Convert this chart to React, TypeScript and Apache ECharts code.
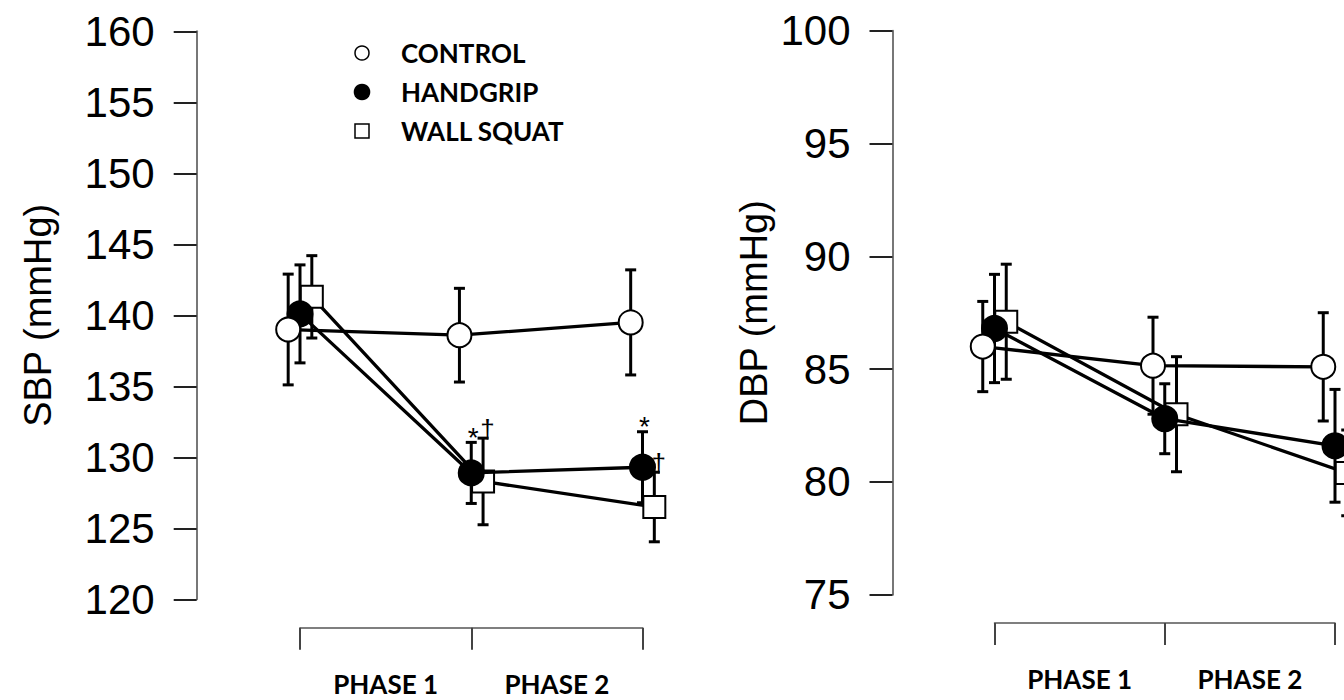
import { useEffect, useRef } from "react";
import * as echarts from "echarts";

// ---------- data ----------
const phases = ["PHASE 1", "PHASE 2"];
const timepoints = [0, 1, 2];
const groupNames = ["CONTROL", "HANDGRIP", "WALL SQUAT"];

const sbpControl = [139.0, 138.6, 139.5];
const sbpControlSE = [3.9, 3.3, 3.7];
const sbpHandgrip = [140.1, 128.9, 129.3];
const sbpHandgripSE = [3.45, 2.15, 2.5];
const sbpWallSquat = [141.3, 128.3, 126.5];
const sbpWallSquatSE = [2.9, 3.05, 2.45];
const sbpHandgripMarks = ["", "*", "*"];
const sbpWallSquatMarks = ["", "†", "†"];

const dbpControl = [86.0, 85.15, 85.1];
const dbpControlSE = [2.0, 2.15, 2.4];
const dbpHandgrip = [86.8, 82.8, 81.6];
const dbpHandgripSE = [2.4, 1.55, 2.5];
const dbpWallSquat = [87.1, 83.0, 80.4];
const dbpWallSquatSE = [2.55, 2.55, 1.9];
const noMarks = ["", "", ""];

const sbpAxis = { name: "SBP (mmHg)", min: 120, max: 160, interval: 5 };
const dbpAxis = { name: "DBP (mmHg)", min: 75, max: 100, interval: 5 };

// ---------- styles ----------
const groupOffset = [-0.069, 0, 0.069];
const groupSymbol = ["circle", "circle", "rect"];
const groupSymbolSize = [24, 25, 22];
const groupFill = ["#ffffff", "#000000", "#ffffff"];
const groupZ = [6, 5, 4];
const markStyle: Record<string, { size: number; dy: number; dx: number }> = {
  "*": { size: 28, dy: -5, dx: 2 },
  "†": { size: 26, dy: -9, dx: 4.5 },
};

function makeGroup(
  panel: number,
  g: number,
  values: number[],
  se: number[],
  marks: string[]
) {
  const pts = timepoints.map((t, i) => [t + groupOffset[g], values[i]]);
  const errData = timepoints.map((t, i) => [t + groupOffset[g], values[i], se[i]]);
  const line = {
    type: "line",
    name: groupNames[g],
    xAxisIndex: panel * 2,
    yAxisIndex: panel,
    data: pts,
    clip: false,
    symbol: groupSymbol[g],
    symbolSize: groupSymbolSize[g],
    showSymbol: true,
    showAllSymbol: true,
    itemStyle: { color: groupFill[g], borderColor: "#000", borderWidth: 2, opacity: 1 },
    lineStyle: { color: "#000", width: 3.3 },
    z: groupZ[g] + 2,
    silent: true,
  };
  const bars = {
    type: "custom",
    xAxisIndex: panel * 2,
    yAxisIndex: panel,
    data: errData,
    encode: { x: 0, y: 1 },
    z: groupZ[g],
    silent: true,
    clip: false,
    renderItem: (params: any, api: any) => {
      const x = api.value(0);
      const y = api.value(1);
      const e = api.value(2);
      const top = api.coord([x, y + e]);
      const bot = api.coord([x, y - e]);
      const w = 5.5;
      const ls = { stroke: "#000", lineWidth: 3 };
      return {
        type: "group",
        children: [
          { type: "line", shape: { x1: top[0], y1: top[1], x2: bot[0], y2: bot[1] }, style: ls },
          { type: "line", shape: { x1: top[0] - w, y1: top[1], x2: top[0] + w, y2: top[1] }, style: ls },
          { type: "line", shape: { x1: bot[0] - w, y1: bot[1], x2: bot[0] + w, y2: bot[1] }, style: ls },
        ],
      };
    },
  };
  const out: any[] = [bars, line];
  if (marks.some((m) => m)) {
    out.push({
      type: "custom",
      xAxisIndex: panel * 2,
      yAxisIndex: panel,
      data: errData,
      encode: { x: 0, y: 1 },
      z: 20,
      silent: true,
      clip: false,
      renderItem: (params: any, api: any) => {
        const m = marks[params.dataIndex];
        if (!m) return { type: "group", children: [] };
        const top = api.coord([api.value(0), api.value(1) + api.value(2)]);
        const st = markStyle[m];
        return {
          type: "text",
          x: top[0] + st.dx,
          y: top[1] + st.dy,
          style: {
            text: m,
            fill: "#000",
            fontSize: st.size,
            fontFamily: '"Liberation Sans", Arial, sans-serif',
            align: "center",
            verticalAlign: "middle",
          },
        };
      },
    });
  }
  return out;
}

export default function App() {
  const ref = useRef<HTMLDivElement>(null);
  useEffect(() => {
    if (!ref.current) return;
    const chart = echarts.init(ref.current, undefined, { renderer: "svg" });
    const grids = [
      { left: 300, top: 31.3, width: 342.5, height: 568 },
      { left: 994.5, top: 30.7, width: 340.5, height: 564 },
    ];
    const yAxes = [sbpAxis, dbpAxis].map((a, i) => ({
      type: "value",
      gridIndex: i,
      min: a.min,
      max: a.max,
      interval: a.interval,
      position: "left",
      offset: i === 0 ? 103.3 : 102,
      name: a.name,
      nameLocation: "middle",
      nameRotate: 90,
      nameGap: i === 0 ? 140 : 120,
      nameTextStyle: {
        fontSize: 38,
        fontFamily: '"Liberation Sans", Arial, sans-serif',
        color: "#000",
      },
      axisLine: { show: true, onZero: false, lineStyle: { color: "#777", width: 2 } },
      axisTick: { show: true, length: 23, lineStyle: { color: "#222", width: 2 } },
      axisLabel: {
        margin: 42,
        fontSize: 42,
        fontFamily: '"Liberation Sans", Arial, sans-serif',
        color: "#000",
      },
      splitLine: { show: false },
    }));
    const xAxes: any[] = [];
    [0, 1].forEach((i) => {
      xAxes.push({
        type: "value",
        gridIndex: i,
        min: 0,
        max: 2,
        interval: 1,
        show: false,
      });
      xAxes.push({
        type: "category",
        gridIndex: i,
        data: phases,
        position: "bottom",
        offset: 28.4,
        boundaryGap: true,
        axisLine: { show: true, onZero: false, lineStyle: { color: "#555", width: 1.5 } },
        axisTick: { show: true, length: 22, alignWithLabel: false, lineStyle: { color: "#444", width: 2 } },
        axisLabel: {
          margin: 43,
          fontSize: 26,
          fontWeight: "bold",
          fontFamily: 'Lato, "Open Sans", sans-serif',
          color: "#000",
        },
        splitLine: { show: false },
      });
    });

    const series: any[] = [
      ...makeGroup(0, 2, sbpWallSquat, sbpWallSquatSE, sbpWallSquatMarks),
      ...makeGroup(0, 1, sbpHandgrip, sbpHandgripSE, sbpHandgripMarks),
      ...makeGroup(0, 0, sbpControl, sbpControlSE, noMarks),
      ...makeGroup(1, 2, dbpWallSquat, dbpWallSquatSE, noMarks),
      ...makeGroup(1, 1, dbpHandgrip, dbpHandgripSE, noMarks),
      ...makeGroup(1, 0, dbpControl, dbpControlSE, noMarks),
    ];

    const legendFont = 'bold 26px Lato, "Open Sans", sans-serif';
    const legendRows = [53, 92, 131];
    const graphic: any[] = [
      { type: "circle", shape: { cx: 362, cy: legendRows[0], r: 7 }, style: { fill: "#fff", stroke: "#000", lineWidth: 1.5 } },
      { type: "circle", shape: { cx: 362, cy: legendRows[1], r: 8.3 }, style: { fill: "#000" } },
      { type: "rect", shape: { x: 355, y: legendRows[2] - 7, width: 14, height: 14 }, style: { fill: "#fff", stroke: "#000", lineWidth: 1.5 } },
      ...groupNames.map((n, i) => ({
        type: "text",
        x: 401,
        y: legendRows[i],
        style: { text: n, font: legendFont, fill: "#000", verticalAlign: "middle", align: "left" },
      })),
    ];

    chart.setOption({
      animation: false,
      backgroundColor: "#fff",
      grid: grids,
      xAxis: xAxes,
      yAxis: yAxes,
      series,
      graphic,
    });
    return () => chart.dispose();
  }, []);
  return (
    <div
      ref={ref}
      style={{ position: "absolute", left: 0, top: 0, width: 1344, height: 700 }}
    />
  );
}
